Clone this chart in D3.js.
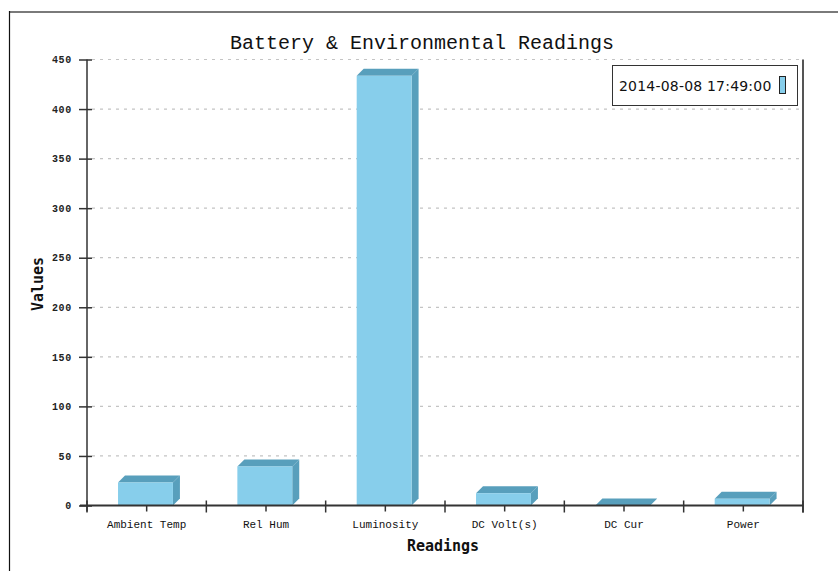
<!DOCTYPE html>
<html>
<head>
<meta charset="utf-8">
<script src="https://cdn.jsdelivr.net/npm/d3@7"></script>
<style>
  html, body { margin: 0; padding: 0; background: #fff; }
  svg { display: block; }
</style>
</head>
<body>
<svg id="chart" width="838" height="571"></svg>
<script>
// Readings for the snapshot
const categories = ["Ambient Temp", "Rel Hum", "Luminosity", "DC Volt(s)", "DC Cur", "Power"];
const values = [23.2, 39.4, 433.5, 12.4, 0, 6.8];
const seriesName = "2014-08-08 17:49:00";
const yTicks = [0, 50, 100, 150, 200, 250, 300, 350, 400, 450];

const svg = d3.select("#chart");
const W = 838, H = 571;
const plot = { left: 87, right: 803, top: 59.5, bottom: 505.5 };
const depth = 7;
const frontColor = "#87ceeb";
const sideColor = "#589fbc";

// outer frame
svg.append("line").attr("x1", 9).attr("x2", W).attr("y1", 12).attr("y2", 12)
  .attr("stroke", "#7a7a7a").attr("stroke-width", 2);
svg.append("line").attr("x1", 9.5).attr("x2", 9.5).attr("y1", 11).attr("y2", H)
  .attr("stroke", "#111").attr("stroke-width", 1.2);

const x = d3.scaleBand().domain(categories).range([plot.left, plot.right]).padding(0);
const y = d3.scaleLinear().domain([0, 450]).range([plot.bottom, plot.top]);

// grid
svg.append("g").selectAll("line").data(yTicks.filter(t => t > 0)).join("line")
  .attr("x1", plot.left + 5).attr("x2", plot.right)
  .attr("y1", d => y(d)).attr("y2", d => y(d))
  .attr("stroke", "#c4c4c4").attr("stroke-width", 1.2)
  .attr("stroke-dasharray", "3,5");

// title
svg.append("text").attr("x", 422).attr("y", 49).attr("text-anchor", "middle")
  .attr("font-family", "Liberation Mono, monospace").attr("font-size", 20)
  .attr("fill", "#111").text("Battery & Environmental Readings");

// bars (front face, right side, top face)
const bars = svg.append("g");
categories.forEach((c, i) => {
  const v = values[i];
  const x0 = x(c) + x.bandwidth() * 0.26;
  const w = x.bandwidth() * 0.46;
  const x1 = x0 + w;
  const yt = y(v), yb = y(0);
  if (yb - yt > 0.5) {
    bars.append("path")
      .attr("d", `M${x1},${yt}L${x1 + depth},${yt - depth}L${x1 + depth},${yb - depth}L${x1},${yb}Z`)
      .attr("fill", sideColor);
  }
  bars.append("path")
    .attr("d", `M${x0},${yt}L${x0 + depth},${yt - depth}L${x1 + depth},${yt - depth}L${x1},${yt}Z`)
    .attr("fill", sideColor);
  if (yb - yt > 0.5) {
    bars.append("rect").attr("x", x0).attr("y", yt).attr("width", w).attr("height", yb - yt)
      .attr("fill", frontColor);
  }
});

// y axis
const yAxis = svg.append("g").attr("transform", `translate(${plot.left},0)`)
  .call(d3.axisLeft(y).tickValues(yTicks).tickSize(8).tickPadding(7));
yAxis.select(".domain").remove();
yAxis.selectAll(".tick line").attr("x1", 5).attr("stroke", "#333").attr("stroke-width", 1.5);
yAxis.selectAll(".tick text").attr("font-family", "Liberation Mono, monospace")
  .attr("font-weight", "bold").attr("font-size", 10).attr("letter-spacing", 0.7).attr("fill", "#222");
svg.append("line").attr("x1", plot.left).attr("x2", plot.left)
  .attr("y1", plot.top).attr("y2", plot.bottom + 6)
  .attr("stroke", "#333").attr("stroke-width", 1.5);

// right edge
svg.append("line").attr("x1", plot.right).attr("x2", plot.right)
  .attr("y1", plot.top).attr("y2", plot.bottom + 7)
  .attr("stroke", "#555").attr("stroke-width", 2);

// x axis
const xAxis = svg.append("g").attr("transform", `translate(0,${plot.bottom})`)
  .call(d3.axisBottom(x).tickSize(6).tickPadding(9));
xAxis.select(".domain").remove();
xAxis.selectAll(".tick line").attr("stroke", "#333").attr("stroke-width", 1.5);
xAxis.selectAll(".tick text").attr("font-family", "Liberation Mono, monospace")
  .attr("font-size", 11).attr("fill", "#111");
svg.append("line").attr("x1", 80).attr("x2", plot.right)
  .attr("y1", plot.bottom).attr("y2", plot.bottom)
  .attr("stroke", "#333").attr("stroke-width", 2);
// category boundary ticks
svg.append("g").selectAll("line")
  .data(categories.map(c => x(c)).concat([x(categories[categories.length - 1]) + x.bandwidth()]))
  .join("line")
  .attr("x1", d => d).attr("x2", d => d)
  .attr("y1", plot.bottom - 5).attr("y2", plot.bottom + 7)
  .attr("stroke", "#333").attr("stroke-width", 1.5);

// axis titles
svg.append("text").attr("x", 443).attr("y", 551).attr("text-anchor", "middle")
  .attr("font-family", "DejaVu Sans Mono, monospace").attr("font-weight", "bold")
  .attr("font-size", 15).attr("fill", "#111").text("Readings");
svg.append("text").attr("transform", "translate(43,284) rotate(-90)").attr("text-anchor", "middle")
  .attr("font-family", "DejaVu Sans Mono, monospace").attr("font-weight", "bold")
  .attr("font-size", 15).attr("fill", "#111").text("Values");

// legend
const lg = svg.append("g");
lg.append("rect").attr("x", 612.5).attr("y", 65.5).attr("width", 185).attr("height", 40)
  .attr("fill", "#fff").attr("stroke", "#333").attr("stroke-width", 1);
lg.append("text").attr("x", 619).attr("y", 91)
  .attr("font-family", "DejaVu Sans, sans-serif").attr("font-size", 14)
  .attr("letter-spacing", 0.2).attr("fill", "#111")
  .text(seriesName);
lg.append("rect").attr("x", 779.5).attr("y", 76.5).attr("width", 6).attr("height", 17)
  .attr("fill", frontColor).attr("stroke", "#222").attr("stroke-width", 1);
</script>
</body>
</html>
